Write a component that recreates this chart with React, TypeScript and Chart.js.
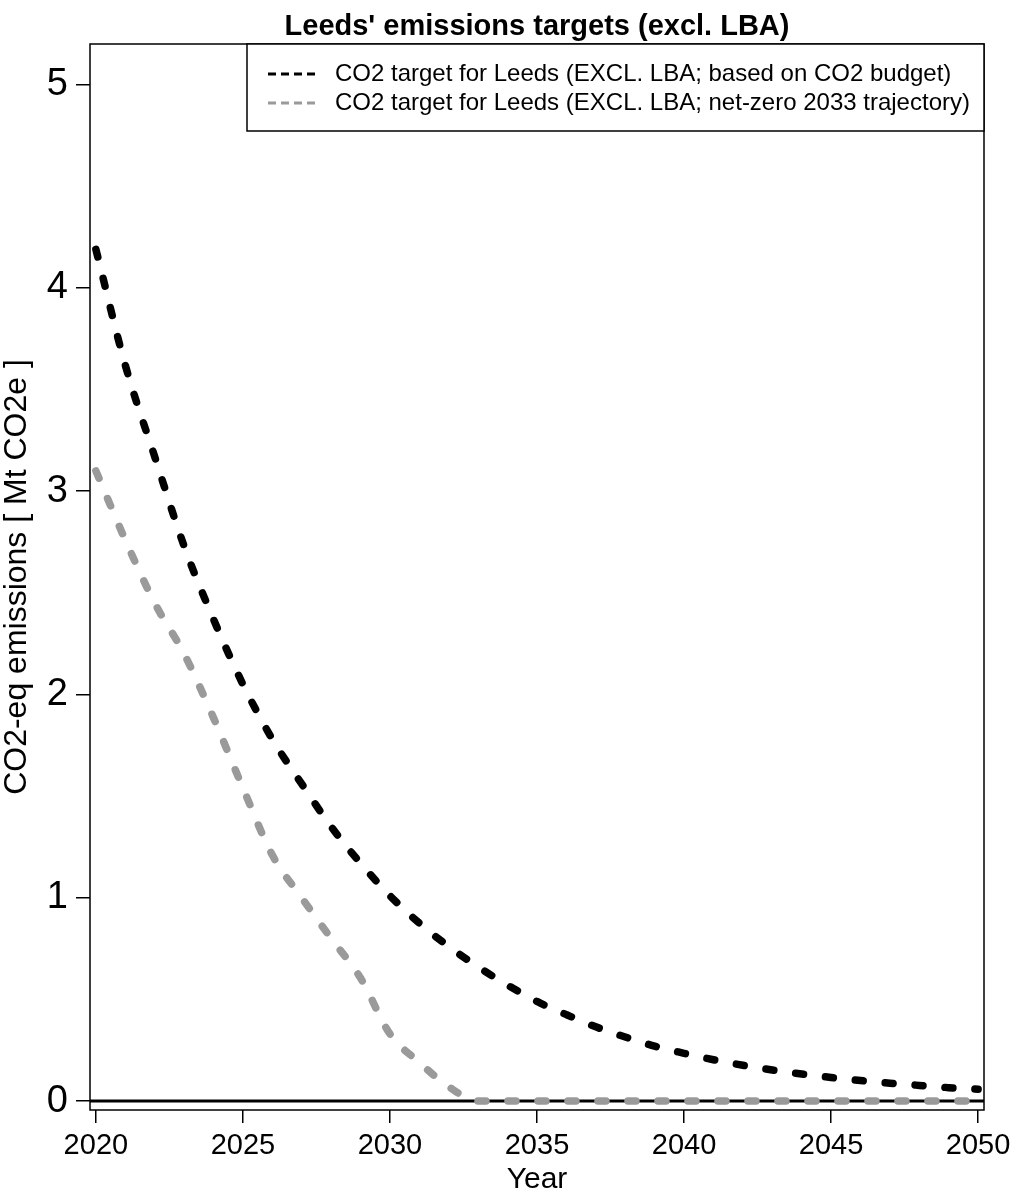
import { useEffect, useRef } from 'react';
import { Chart, registerables } from 'chart.js';

Chart.register(...registerables);

const years = [
  2020, 2021, 2022, 2023, 2024, 2025, 2026, 2027, 2028, 2029, 2030,
  2031, 2032, 2033, 2034, 2035, 2036, 2037, 2038, 2039, 2040,
  2041, 2042, 2043, 2044, 2045, 2046, 2047, 2048, 2049, 2050,
];
const budgetSeries = [
  4.19, 3.62, 3.17, 2.73, 2.37, 2.05, 1.78, 1.56, 1.35, 1.17, 1.01,
  0.875, 0.76, 0.66, 0.57, 0.49, 0.425, 0.365, 0.315, 0.27, 0.235,
  0.203, 0.176, 0.153, 0.133, 0.116, 0.101, 0.088, 0.077, 0.066, 0.058,
];
const netZeroSeries = [
  3.1, 2.76, 2.45, 2.2, 1.885, 1.54, 1.21, 1.0, 0.8, 0.605, 0.33,
  0.19, 0.07, 0, 0, 0, 0, 0, 0, 0, 0,
  0, 0, 0, 0, 0, 0, 0, 0, 0, 0,
];
const seriesLabels = [
  'CO2 target for Leeds (EXCL. LBA; based on CO2 budget)',
  'CO2 target for Leeds (EXCL. LBA; net-zero 2033 trajectory)',
];
const xTickValues = [2020, 2025, 2030, 2035, 2040, 2045, 2050];
const yTickValues = [0, 1, 2, 3, 4, 5];
const chartTitle = "Leeds' emissions targets (excl. LBA)";
const xAxisTitle = 'Year';
const yAxisTitle = 'CO2-eq emissions [ Mt CO2e ]';

const FONT = "'Liberation Sans', Arial, Helvetica, sans-serif";

const framePlugin = {
  id: 'frameAndLegend',
  beforeDatasetsDraw(chart: any) {
    const { ctx, chartArea: a, scales } = chart;
    const y0 = scales.y.getPixelForValue(0);
    ctx.save();
    ctx.strokeStyle = '#000';
    ctx.lineWidth = 3;
    ctx.beginPath();
    ctx.moveTo(a.left, y0);
    ctx.lineTo(a.right, y0);
    ctx.stroke();
    ctx.restore();
  },
  afterDraw(chart: any) {
    const { ctx, chartArea: a } = chart;
    ctx.save();
    // frame
    ctx.strokeStyle = '#000';
    ctx.lineWidth = 1.5;
    ctx.setLineDash([]);
    ctx.strokeRect(a.left, a.top, a.right - a.left, a.bottom - a.top);

    // title
    ctx.fillStyle = '#000';
    ctx.font = `bold 29px ${FONT}`;
    ctx.textAlign = 'center';
    ctx.textBaseline = 'alphabetic';
    ctx.fillText(chartTitle, (a.left + a.right) / 2, 35);

    // legend box
    const lx = a.left + 157;
    const ly = a.top;
    const lw = a.right - lx;
    const lh = 87;
    ctx.fillStyle = '#fff';
    ctx.fillRect(lx, ly, lw, lh);
    ctx.strokeRect(lx, ly, lw, lh);
    chart.data.datasets.forEach((ds: any, i: number) => {
      const cy = ly + 30 + i * 29;
      ctx.strokeStyle = ds.borderColor;
      ctx.lineWidth = 3;
      ctx.setLineDash([8, 5]);
      ctx.lineCap = 'butt';
      ctx.beginPath();
      ctx.moveTo(lx + 21, cy);
      ctx.lineTo(lx + 68, cy);
      ctx.stroke();
      ctx.setLineDash([]);
      ctx.fillStyle = '#000';
      ctx.font = `24px ${FONT}`;
      ctx.textAlign = 'left';
      ctx.textBaseline = 'middle';
      ctx.fillText(ds.label, lx + 88, cy);
    });
    ctx.restore();
  },
};

export default function App() {
  const canvasRef = useRef<HTMLCanvasElement | null>(null);

  useEffect(() => {
    document.body.style.margin = '0';
    const canvas = canvasRef.current;
    if (!canvas) return;
    const lineStyle = {
      borderWidth: 7.5,
      borderDash: [8, 22],
      borderCapStyle: 'round',
      borderJoinStyle: 'round',
      pointRadius: 0,
      cubicInterpolationMode: 'monotone',
      fill: false,
    };
    const chart = new Chart(canvas, {
      type: 'line',
      data: {
        datasets: [
          {
            label: seriesLabels[0],
            data: years.map((x, i) => ({ x, y: budgetSeries[i] })),
            borderColor: '#000000',
            backgroundColor: '#000000',
            ...lineStyle,
          },
          {
            label: seriesLabels[1],
            data: years.map((x, i) => ({ x, y: netZeroSeries[i] })),
            borderColor: '#9a9a9a',
            backgroundColor: '#9a9a9a',
            ...lineStyle,
          },
        ],
      },
      options: {
        animation: false,
        responsive: false,
        devicePixelRatio: 1,
        layout: { padding: { top: 44, right: 26, left: 0, bottom: 0 } },
        plugins: {
          legend: { display: false },
          title: { display: false },
          tooltip: { enabled: false },
        },
        scales: {
          x: {
            type: 'linear',
            min: 2019.8,
            max: 2050.2,
            afterBuildTicks: (s: any) => {
              s.ticks = xTickValues.map((v) => ({ value: v }));
            },
            afterFit: (s: any) => {
              s.height = 90;
              s.paddingLeft = 0;
              s.paddingRight = 0;
            },
            grid: {
              display: true,
              drawOnChartArea: false,
              drawTicks: true,
              tickLength: 13,
              color: '#000',
              lineWidth: 1.5,
            },
            border: { display: false },
            ticks: {
              autoSkip: false,
              maxRotation: 0,
              padding: 6,
              color: '#000',
              font: { family: FONT, size: 29 },
              callback: (v: any) => String(v),
            },
            title: {
              display: true,
              text: xAxisTitle,
              color: '#000',
              font: { family: FONT, size: 30, lineHeight: 1.2 },
              padding: { top: 0, bottom: 2 },
            },
          },
          y: {
            type: 'linear',
            min: -0.044,
            max: 5.2,
            afterBuildTicks: (s: any) => {
              s.ticks = yTickValues.map((v) => ({ value: v }));
            },
            afterFit: (s: any) => {
              s.width = 90;
              s.paddingTop = 0;
              s.paddingBottom = 0;
            },
            grid: {
              display: true,
              drawOnChartArea: false,
              drawTicks: true,
              tickLength: 14,
              color: '#000',
              lineWidth: 1.5,
            },
            border: { display: false },
            ticks: {
              autoSkip: false,
              padding: 8,
              color: '#000',
              font: { family: FONT, size: 38 },
              callback: (v: any) => String(v),
            },
            title: {
              display: true,
              text: yAxisTitle,
              color: '#000',
              font: { family: FONT, size: 32, lineHeight: 1.0 },
              padding: { top: 1, bottom: 0 },
            },
          },
        },
      },
      plugins: [framePlugin],
    } as any);
    return () => {
      chart.destroy();
    };
  }, []);

  return (
    <div style={{ width: 1010, height: 1200, background: '#fff' }}>
      <canvas ref={canvasRef} width={1010} height={1200} style={{ display: 'block' }} />
    </div>
  );
}
